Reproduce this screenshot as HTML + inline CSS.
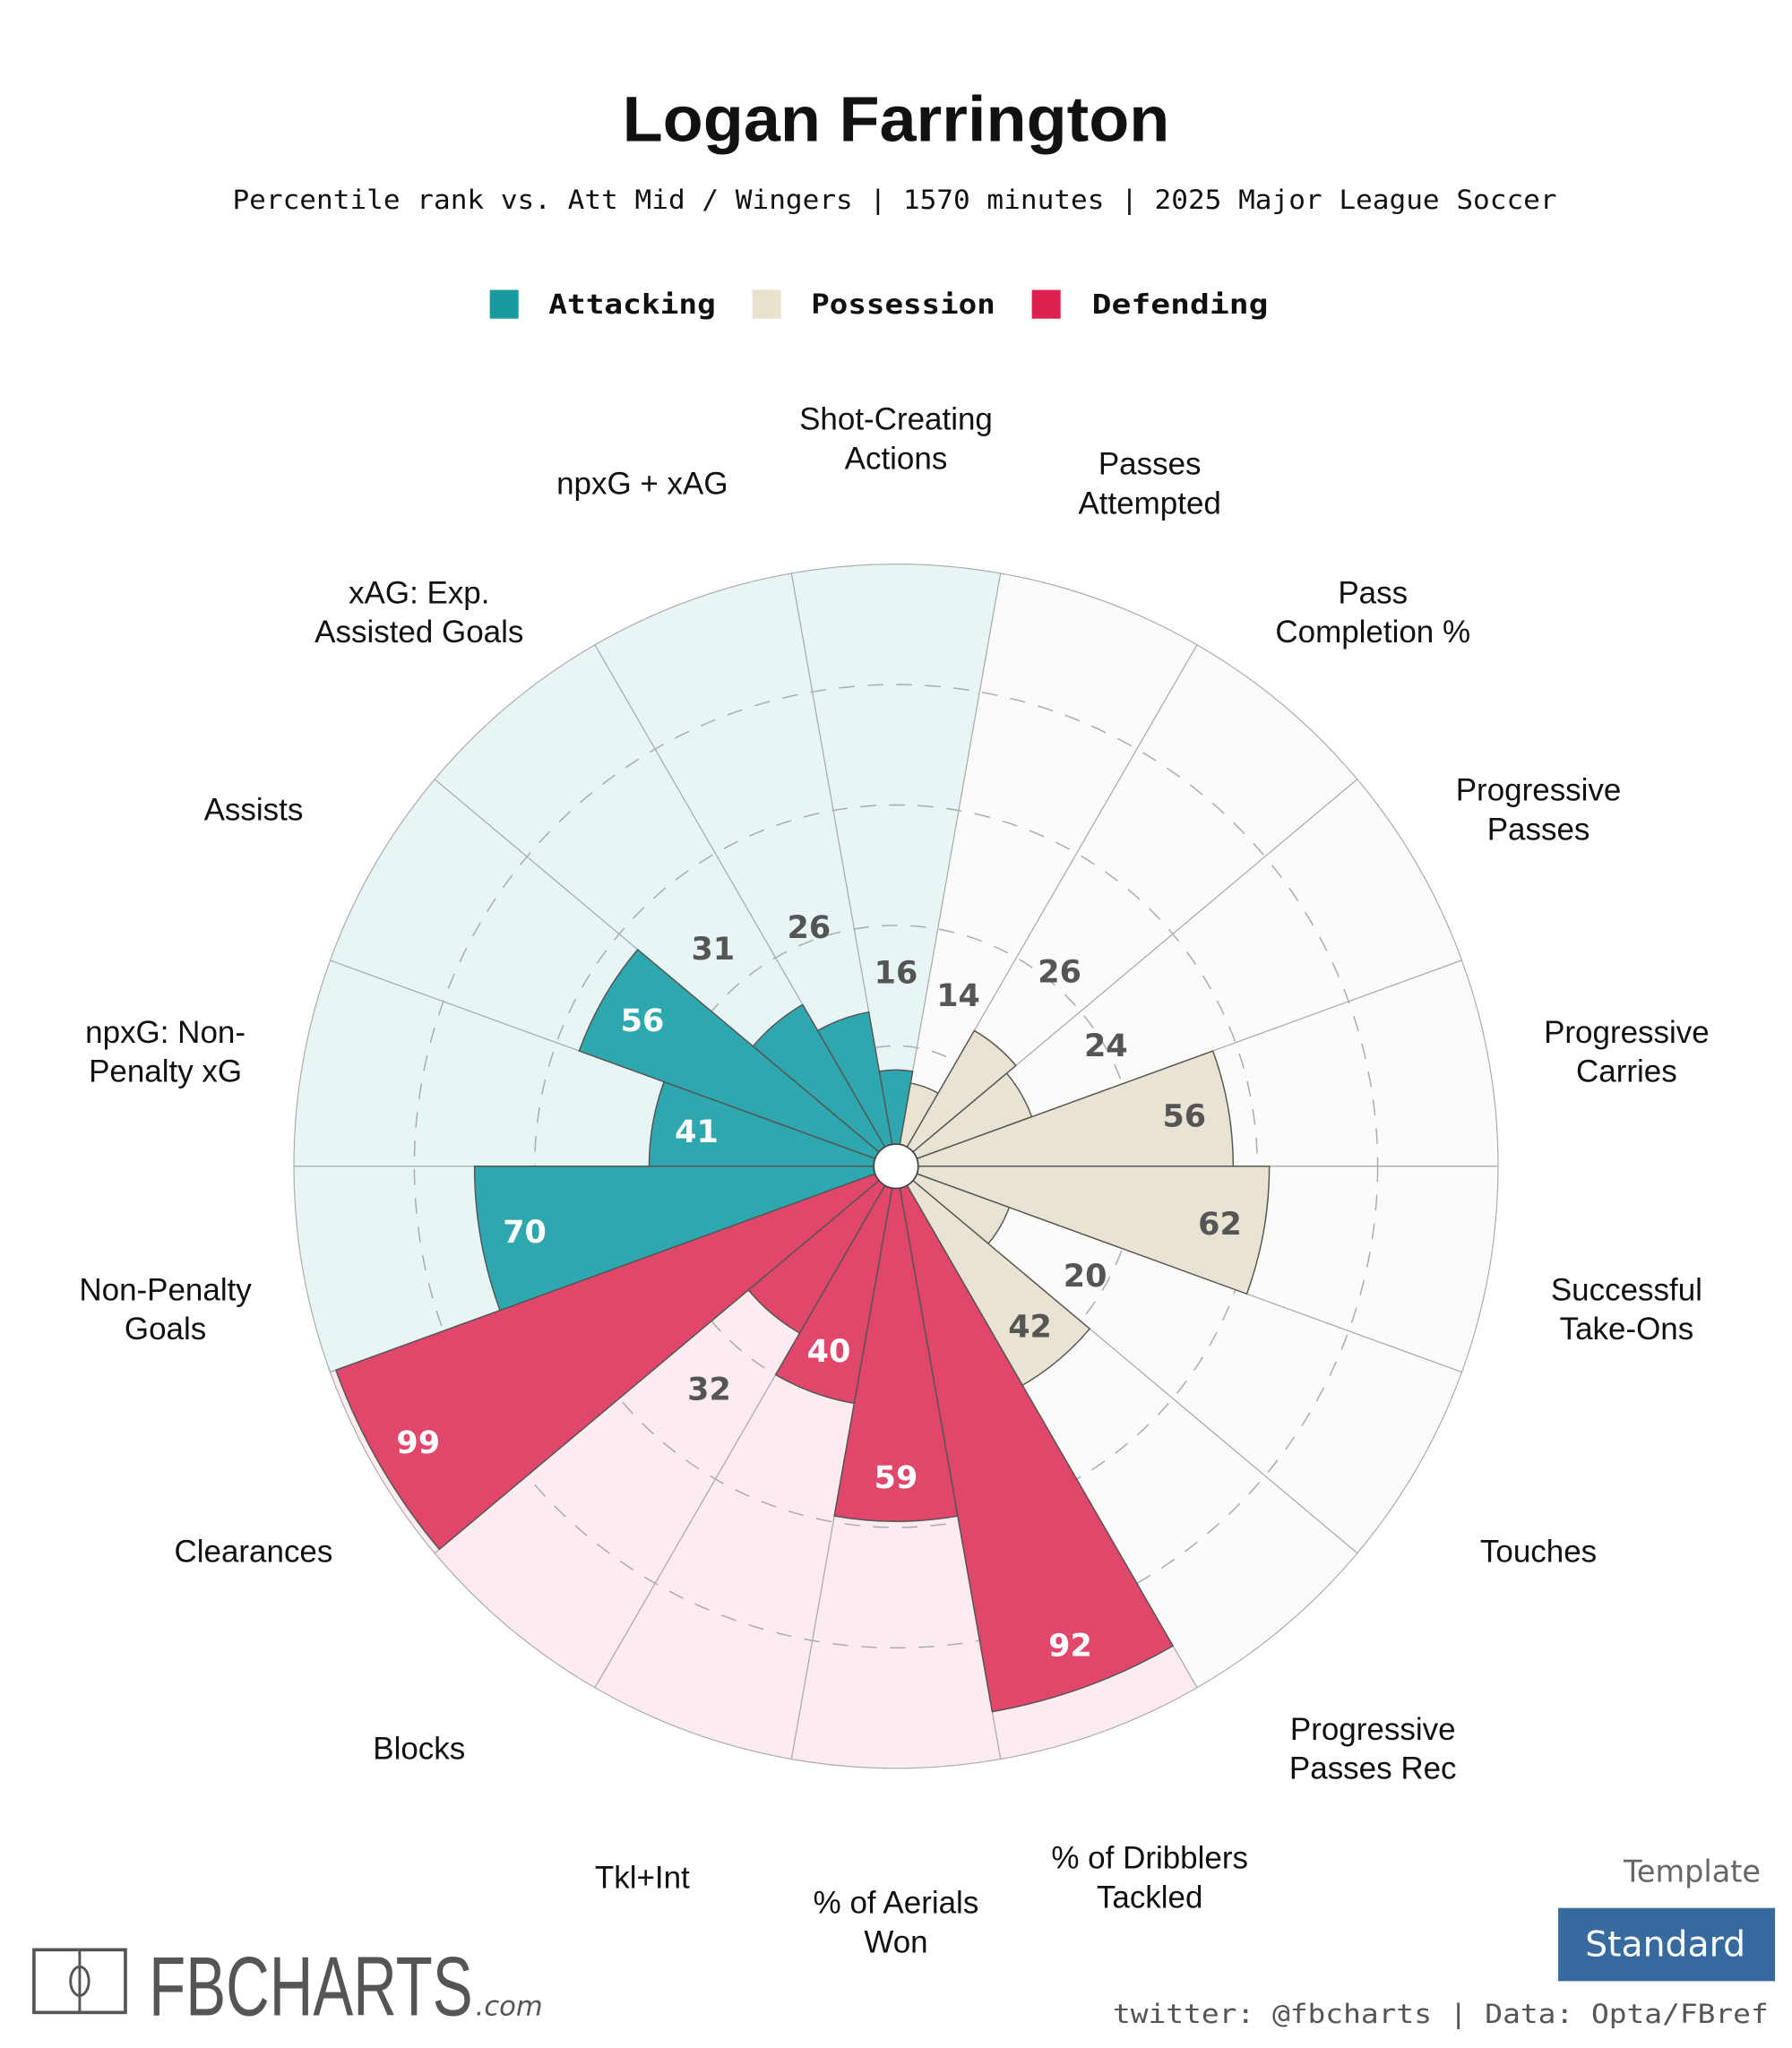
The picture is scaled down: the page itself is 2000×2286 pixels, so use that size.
<!DOCTYPE html>
<html><head><meta charset="utf-8"><style>
html,body{margin:0;padding:0;background:#fff;}
svg{display:block;}
.lbl{font-family:"Liberation Sans",Arial,sans-serif;font-size:24px;fill:#111;}
.val{font-family:"DejaVu Sans","Liberation Sans",sans-serif;font-weight:bold;font-size:24px;}
</style></head><body>
<svg id="chart" width="2000" height="2286" viewBox="0 0 1372 1568.2" xmlns="http://www.w3.org/2000/svg">
<rect width="1372" height="1568.2" fill="#fff"/>
<text x="686" y="108" text-anchor="middle" font-family="Liberation Sans,Arial,sans-serif" font-weight="bold" font-size="49" fill="#111" textLength="419" lengthAdjust="spacingAndGlyphs">Logan Farrington</text>
<text x="685" y="160" text-anchor="middle" font-family="DejaVu Sans Mono,monospace" font-size="20" fill="#111" textLength="1014" lengthAdjust="spacingAndGlyphs">Percentile rank vs. Att Mid / Wingers | 1570 minutes | 2025 Major League Soccer</text>
<g font-family="DejaVu Sans Mono,monospace" font-weight="bold" font-size="21" fill="#111">
<rect x="375" y="222" width="22" height="22" fill="#1a9aa0"/>
<text x="420" y="240" textLength="128" lengthAdjust="spacingAndGlyphs">Attacking</text>
<rect x="576" y="222" width="22" height="22" fill="#e8e2cf"/>
<text x="621" y="240" textLength="141" lengthAdjust="spacingAndGlyphs">Possession</text>
<rect x="790" y="222" width="22" height="22" fill="#dc2050"/>
<text x="836" y="240" textLength="135" lengthAdjust="spacingAndGlyphs">Defending</text>
</g>
<g id="plot"></g>
<g>
<rect x="26" y="1493" width="70" height="48" fill="none" stroke="#555" stroke-width="2.5"/>
<line x1="61" y1="1493" x2="61" y2="1541" stroke="#555" stroke-width="2"/>
<ellipse cx="61" cy="1517" rx="7" ry="11" fill="none" stroke="#555" stroke-width="2"/>
<text x="114" y="1543" font-family="Liberation Sans,sans-serif" font-size="64" fill="#555" textLength="248" lengthAdjust="spacingAndGlyphs">FBCHARTS</text>
<text x="364" y="1543" font-family="DejaVu Sans,sans-serif" font-style="italic" font-size="21" fill="#555">.com</text>
</g>
<text x="1348" y="1441" text-anchor="end" font-family="DejaVu Sans,sans-serif" font-size="23" fill="#666">Template</text>
<rect x="1193" y="1461" width="166" height="56" fill="#376a9e"/>
<text x="1275" y="1498" text-anchor="middle" font-family="DejaVu Sans,sans-serif" font-size="27" fill="#fff">Standard</text>
<text x="1354" y="1549" text-anchor="end" font-family="DejaVu Sans Mono,monospace" font-size="20" fill="#555" textLength="502" lengthAdjust="spacingAndGlyphs">twitter: @fbcharts | Data: Opta/FBref</text>
</svg>
<script>
const categories = ["Shot-Creating Actions","Passes Attempted","Pass Completion %","Progressive Passes","Progressive Carries","Successful Take-Ons","Touches","Progressive Passes Rec","% of Dribblers Tackled","% of Aerials Won","Tkl+Int","Blocks","Clearances","Non-Penalty Goals","npxG: Non-Penalty xG","Assists","xAG: Exp. Assisted Goals","npxG + xAG"];
const labelLines = [["Shot-Creating","Actions"],["Passes","Attempted"],["Pass","Completion %"],["Progressive","Passes"],["Progressive","Carries"],["Successful","Take-Ons"],["Touches"],["Progressive","Passes Rec"],["% of Dribblers","Tackled"],["% of Aerials","Won"],["Tkl+Int"],["Blocks"],["Clearances"],["Non-Penalty","Goals"],["npxG: Non-","Penalty xG"],["Assists"],["xAG: Exp.","Assisted Goals"],["npxG + xAG"]];
const values = [16,14,26,24,56,62,20,42,92,59,40,32,99,70,41,56,31,26];
const groups = ["att","pos","pos","pos","pos","pos","pos","pos","def","def","def","def","def","att","att","att","att","att"];
const gridTicks = [20,40,60,80];

const CX=686, CY=893, R=461, HOLE=17, LR=568;
const fills={att:"#2fa7ae",pos:"#e8e3d2",def:"#e0476a"};
const bgs={att:"#e8f5f5",pos:"#fbfbf9",def:"#fcebef"};
const NS="http://www.w3.org/2000/svg";
const plot=document.getElementById('plot');
const n=categories.length, step=360/n;
function rScale(v){return v/100*R;}
function pt(r,deg){const a=deg*Math.PI/180;return [CX+r*Math.sin(a),CY-r*Math.cos(a)];}
function wedge(r,a0,a1){const p0=pt(r,a0),p1=pt(r,a1);return `M${CX},${CY}L${p0[0]},${p0[1]}A${r},${r} 0 0 1 ${p1[0]},${p1[1]}Z`;}
function mk(tag,attrs){const e=document.createElementNS(NS,tag);for(const k in attrs)e.setAttribute(k,attrs[k]);plot.appendChild(e);return e;}
for(let i=0;i<n;i++){
  const e=mk('path',{d:wedge(R,i*step-step/2,i*step+step/2),fill:bgs[groups[i]],stroke:'#aaa','stroke-width':0.8});
  
  
}
gridTicks.forEach(t=>{
  const c=mk('circle',{cx:CX,cy:CY,r:rScale(t),fill:'none',stroke:'#aaa','stroke-width':1,'stroke-dasharray':'12 10'});
  
  
});
for(let i=0;i<n;i++){
  const e=mk('path',{d:wedge(rScale(values[i]),i*step-step/2,i*step+step/2),fill:fills[groups[i]],stroke:'#555','stroke-width':1});
  
  
}
const hole=mk('circle',{cx:CX,cy:CY,r:HOLE,fill:'#fff',stroke:'#444','stroke-width':1.2});


for(let i=0;i<n;i++){
  const v=values[i], inside=v>=38;
  const r=inside? rScale(v)-34 : rScale(v)+75;
  const p=pt(r,i*step);
  const col=(inside && groups[i]!=='pos')?'#fff':'#555';
  const t=mk('text',{x:p[0],y:p[1]+8.5,'text-anchor':'middle',class:'val',fill:col});
  t.textContent=v;
  
  
  const lines=labelLines[i];
  const q=pt(LR,i*step);
  const lt=mk('text',{x:q[0],y:q[1]-(lines.length-1)*15+19,'text-anchor':'middle',class:'lbl'});
  lines.forEach((s,j)=>{const ts=document.createElementNS(NS,'tspan');ts.setAttribute('x',q[0]);if(j>0)ts.setAttribute('dy',30);ts.textContent=s;lt.appendChild(ts);});
  
  
}
</script>
</body></html>
